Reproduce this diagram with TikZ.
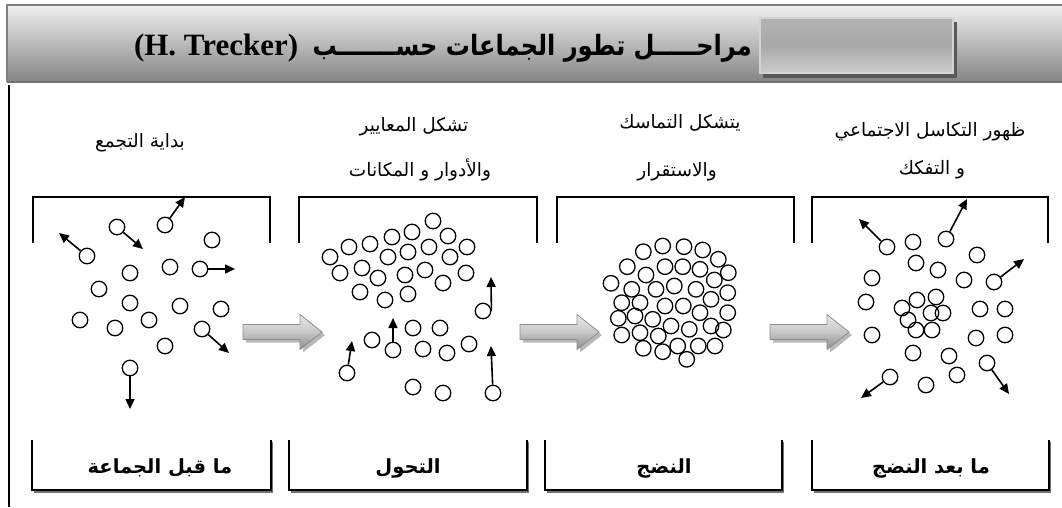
\documentclass[tikz,border=0pt]{standalone}
\usepackage{fontspec}
\setmainfont{Liberation Serif}
\newfontfamily\arabicfont[Script=Arabic]{DejaVu Sans}
\newfontfamily\titlearabic[Script=Arabic,FakeStretch=0.86]{DejaVu Sans}
\TeXXeTstate=1
\usetikzlibrary{arrows.meta}

\tikzset{
  ball/.style={circle, draw, line width=1.3pt, minimum size=15.5pt, inner sep=0pt},
  move/.style={line width=1.6pt, -{Triangle[length=10pt,width=9pt]}},
  caption/.style={font=\arabicfont\fontsize{18.5}{20}\selectfont, inner sep=0pt},
  stagelabel/.style={font=\arabicfont\bfseries\fontsize{19.5}{22}\selectfont, inner sep=0pt},
  bracket/.style={line width=1.6pt},
  fatarrow/.style={draw=black!45, line width=0.8pt, top color=black!8, bottom color=black!45, middle color=black!22},
}

% grey block arrow between two stages, #1 = left end
\newcommand{\stagearrow}[1]{%
  \begin{scope}[shift={(#1,332)}]
    \fill[black!28] (3,-4.5) -- (60,-4.5) -- (60,-14.5) -- (82,3) -- (60,20.5) -- (60,10.5) -- (3,10.5) -- cycle;
    \draw[fatarrow] (0,-7.5) -- (57,-7.5) -- (57,-17.5) -- (79,0) -- (57,17.5) -- (57,7.5) -- (0,7.5) -- cycle;
  \end{scope}}

\begin{document}
\begin{tikzpicture}[x=1pt,y=-1pt]
  \useasboundingbox (0,0) rectangle (1062,507);

  % title band
  \fill[top color=black!6, bottom color=black!48] (7,5) rectangle (1062,82);
  \draw[black!55, line width=1.8pt] (7,82) -- (1062,82);
  \draw[black!50, line width=1.5pt] (1062,5) -- (7,5) -- (7,82);
  \fill[black!65] (763,22) rectangle (957,78);
  \draw[black!17, line width=2pt, top color=black!30, bottom color=black!20, middle color=black!34] (760,18) rectangle (953,73);
  \node[anchor=base east, inner sep=0pt, font=\titlearabic\bfseries\fontsize{28}{32}\selectfont] (titlear) at (752,55)
    {\beginR مراحـــــل تطور الجماعات حســـــــب\endR};
  \node[anchor=base east, inner sep=0pt, font=\bfseries\fontsize{31}{34}\selectfont] (trecker) at ([xshift=-14pt]titlear.base west)
    {(H. Trecker)};

  \draw[line width=2.6pt] (9,85) -- (9,507);

  % stage frames
  \draw[bracket] (33,243) |- (270,197) -- (270,243);
  \draw[bracket] (299,243) |- (537,197) -- (537,243);
  \draw[bracket] (557,243) |- (794,197) -- (794,243);
  \draw[bracket] (812,243) |- (1048,197) -- (1048,243);

  % captions
  \node[caption] (cap1) at (140,143) {\beginR بداية التجمع\endR};
  \node[caption] (cap2a) at (414,127) {\beginR تشكل المعايير\endR};
  \node[caption] (cap2b) at (420,170) {\beginR والأدوار و المكانات\endR};
  \node[caption] (cap3a) at (680,123) {\beginR يتشكل التماسك\endR};
  \node[caption] (cap3b) at (677,172) {\beginR والاستقرار\endR};
  \node[caption] (cap4a) at (930,132) {\beginR ظهور التكاسل الاجتماعي\endR};
  \node[caption] (cap4b) at (932,170) {\beginR و التفكك\endR};

  % pre-group
  \foreach \px/\py [count=\i] in {117/227, 165/225, 212/240, 87/256, 130/273, 170/267, 200/269,
      99/289, 130/303, 180/306, 221/309, 80/320, 149/320, 115/328, 202/329, 165/346, 130/368}
    \node[ball] (a\i) at (\px,\py) {};
  \coordinate (a1to) at (143,249);
  \coordinate (a2to) at (185,197);
  \coordinate (a4to) at (59,233);
  \coordinate (a7to) at (235,269);
  \coordinate (a15to) at (229,353);
  \coordinate (a17to) at (130,409);
  \draw[move] (a1) -- (a1to);
  \draw[move] (a2) -- (a2to);
  \draw[move] (a4) -- (a4to);
  \draw[move] (a7) -- (a7to);
  \draw[move] (a15) -- (a15to);
  \draw[move] (a17) -- (a17to);

  % transition
  \foreach \px/\py [count=\i] in {433/221, 412/232, 448/236, 392/237, 370/244, 349/247, 467/247,
      429/247, 408/252, 388/257, 330/257, 450/257, 362/268, 340/273, 425/270, 405/275, 466/273,
      378/278, 443/283, 360/292, 408/294, 385/300, 483/311, 372/340, 413/328, 440/328, 393/350,
      469/344, 423/349, 447/353, 347/373, 413/387, 443/393, 493/393}
    \node[ball] (b\i) at (\px,\py) {};
  \coordinate (b23to) at (491,277);
  \coordinate (b27to) at (393,318);
  \coordinate (b31to) at (352,341);
  \coordinate (b34to) at (491,346);
  \draw[move] (b23.east) -- (b23to);
  \draw[move] (b27) -- (b27to);
  \draw[move] (b31) -- (b31to);
  \draw[move] (b34) -- (b34to);

  % maturity
  \foreach \px/\py [count=\i] in {662.7/246, 684/246.7, 702.7/250, 643.3/251.7, 718.3/259.3,
      627.3/266.7, 665/266.7, 682.7/266.7, 700/269.3, 728.3/272.7, 646/275, 714.3/280,
      611/283.3, 631.7/289.3, 656/289.3, 674.3/286, 696/289.3, 727.7/292.7,
      621.7/302.7, 640/302.7, 665/306, 683.3/306, 711/299.3,
      618.3/318.3, 635/316, 652.7/319.3, 700/312.7, 727.7/312.7,
      671/326, 689.3/329.3, 711/326, 723.3/330,
      621.7/335, 640/332.7, 658.3/336,
      643.3/348.3, 662.7/351.7, 677.7/346, 698.3/346, 715/346, 686.7/359.3}
    \node[ball] (c\i) at (\px,\py) {};

  % after maturity
  \foreach \px/\py [count=\i] in {887/247, 913/242, 946/239, 977/255, 916/263, 938/270, 964/280,
      994/282, 872/278, 866/302, 902/308, 917/300, 936/297, 931/313, 943/313, 908/320, 916/330,
      932/330, 980/309, 1005/309, 872/335, 976/338, 1005/335, 913/353, 949/356, 987/363,
      957/375, 890/377, 926/385}
    \node[ball] (d\i) at (\px,\py) {};
  \coordinate (d1to) at (859,219);
  \coordinate (d3to) at (967,199);
  \coordinate (d8to) at (1024,259);
  \coordinate (d26to) at (1009,394);
  \coordinate (d28to) at (861,398);
  \draw[move] (d1) -- (d1to);
  \draw[move] (d3) -- (d3to);
  \draw[move] (d8) -- (d8to);
  \draw[move] (d26) -- (d26to);
  \draw[move] (d28) -- (d28to);

  % arrows between stages
  \stagearrow{243}
  \stagearrow{520}
  \stagearrow{770}

  % stage names
  \foreach \l/\r in {32/271, 289/527, 545/782, 812/1049} {
    \draw[black!55, line width=1.5pt] (\l+1.5,492) -- (\r+1.5,492) -- (\r+1.5,442);
    \draw[line width=1.4pt] (\l,440) |- (\r,490) -- (\r,440);
  }
  \node[stagelabel] (stage1) at (160,468) {\beginR ما قبل الجماعة\endR};
  \node[stagelabel] (stage2) at (408,468) {\beginR التحول\endR};
  \node[stagelabel] (stage3) at (664,468) {\beginR النضج\endR};
  \node[stagelabel] (stage4) at (931,468) {\beginR ما بعد النضج\endR};
\end{tikzpicture}
\end{document}
